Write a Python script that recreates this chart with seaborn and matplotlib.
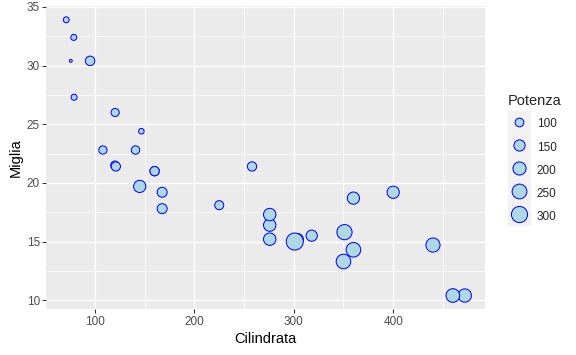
import numpy as np
import pandas as pd
import matplotlib
matplotlib.use("Agg")
import matplotlib.pyplot as plt
from matplotlib.lines import Line2D
from matplotlib.legend_handler import HandlerTuple
import seaborn as sns

# mtcars: displacement, mpg, horsepower
cilindrata = [160, 160, 108, 258, 360, 225, 360, 146.7, 140.8, 167.6, 167.6,
              275.8, 275.8, 275.8, 472, 460, 440, 78.7, 75.7, 71.1, 120.1,
              318, 304, 350, 400, 79, 120.3, 95.1, 351, 145, 301, 121]
miglia = [21.0, 21.0, 22.8, 21.4, 18.7, 18.1, 14.3, 24.4, 22.8, 19.2, 17.8,
          16.4, 17.3, 15.2, 10.4, 10.4, 14.7, 32.4, 30.4, 33.9, 21.5,
          15.5, 15.2, 13.3, 19.2, 27.3, 26.0, 30.4, 15.8, 19.7, 15.0, 21.4]
potenza = [110, 110, 93, 110, 175, 105, 245, 62, 95, 123, 123,
           180, 180, 180, 205, 215, 230, 66, 52, 65, 97,
           150, 150, 245, 175, 66, 91, 113, 264, 175, 335, 109]
legend_breaks = [100, 150, 200, 250, 300]
x_ticks = [100, 200, 300, 400]
y_ticks = [10, 15, 20, 25, 30, 35]

df = pd.DataFrame({"Cilindrata": cilindrata, "Miglia": miglia, "Potenza": potenza})

hp_min, hp_max = min(potenza), max(potenza)

def diam_pt(h):
    # ggplot2 area scale, range 1..6 mm, pch 21 circle = 0.75 * fontsize
    t = (h - hp_min) / (hp_max - hp_min)
    size = 1 + 5 * np.sqrt(t)
    return 0.75 * size * 2.845276

sizes = {h: diam_pt(h) ** 2 for h in sorted(set(potenza))}

sns.set_theme(style="darkgrid")
plt.rcParams['font.family'] = ['Liberation Sans', 'DejaVu Sans']

fig = plt.figure(figsize=(6.0, 355 / 96), dpi=96)
ax = fig.add_axes([46.3 / 576, 1 - 309.3 / 355, (484.7 - 46.3) / 576, (309.3 - 6) / 355])
ax.set_facecolor("#EBEBEB")

sns.scatterplot(data=df, x="Cilindrata", y="Miglia", size="Potenza", sizes=sizes,
                color="lightblue", edgecolor="blue", linewidth=0.75, legend=False,
                ax=ax, zorder=3)

xr = max(cilindrata) - min(cilindrata)
yr = max(miglia) - min(miglia)
ax.set_xlim(min(cilindrata) - 0.05 * xr, max(cilindrata) + 0.05 * xr)
ax.set_ylim(min(miglia) - 0.05 * yr, max(miglia) + 0.05 * yr)
ax.set_xticks(x_ticks)
ax.set_yticks(y_ticks)
ax.set_xticks([150, 250, 350, 450], minor=True)
ax.set_yticks([12.5, 17.5, 22.5, 27.5, 32.5], minor=True)
ax.grid(which="major", color="white", linewidth=1.0)
ax.grid(which="minor", color="white", linewidth=0.5)
ax.set_axisbelow(True)
for s in ax.spines.values():
    s.set_visible(False)
ax.tick_params(which="major", length=2.75, width=0.8, color="#333333",
               labelsize=8.8, labelcolor="#4D4D4D", pad=2, left=True, bottom=True)
ax.tick_params(which="minor", length=0)
ax.set_xlabel("Cilindrata", fontsize=11, color="black", labelpad=3)
ax.set_ylabel("Miglia", fontsize=11, color="black", labelpad=3)

handles = []
for b in legend_breaks:
    bg = Line2D([], [], marker="s", linestyle="none", markersize=16, markerfacecolor="#F2F2F2",
                markeredgecolor="#F2F2F2")
    pt = Line2D([], [], marker="o", linestyle="none", markersize=diam_pt(b),
                markerfacecolor="lightblue", markeredgecolor="blue", markeredgewidth=0.75)
    handles.append((bg, pt))

leg = fig.legend(handles, [str(b) for b in legend_breaks], title="Potenza",
                 handler_map={tuple: HandlerTuple(ndivide=1)},
                 loc="upper left", bbox_to_anchor=(502 / 576, 1 - 88 / 355),
                 frameon=False, fontsize=8.8, title_fontsize=11,
                 handlelength=1.9, handleheight=1.6, handletextpad=0.55,
                 labelspacing=0.69, borderpad=0)
leg._legend_box.align = "left"

fig.savefig("out.png", dpi=96)
